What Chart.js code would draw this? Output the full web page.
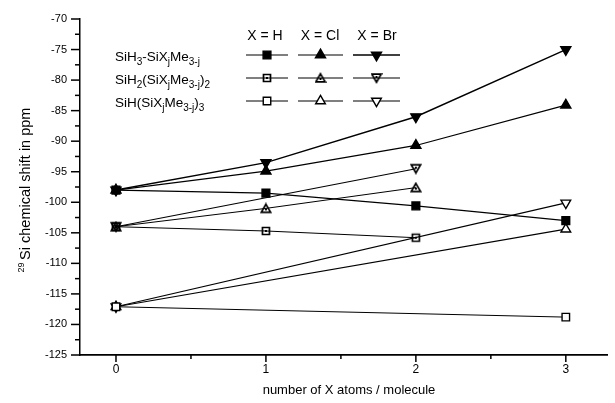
<!DOCTYPE html>
<html>
<head>
<meta charset="utf-8">
<script src="https://cdn.jsdelivr.net/npm/chart.js@4"></script>
<style>
  html, body { margin: 0; padding: 0; background: #fff; }
  #wrap { width: 615px; height: 403px; }
</style>
</head>
<body>
<div id="wrap"><canvas id="shiftChart" width="615" height="403"></canvas></div>
<script>
// --- data ---
const xValues = [0, 1, 2, 3];
const siH3_H  = [-98.0, -98.5, -100.6, -103.0];
const siH3_Cl = [-98.0, -94.9, -90.7, -84.1];
const siH3_Br = [-98.0, -93.5, -86.0, -75.0];
const siH2_H  = [-104.0, -104.7, -105.8, null];
const siH2_Cl = [-104.0, -101.0, -97.6, null];
const siH2_Br = [-104.0, null, -94.5, null];
const siH_H   = [-117.1, null, null, -118.8];
const siH_Cl  = [-117.1, null, null, -104.4];
const siH_Br  = [-117.1, null, null, -100.1];

const xMajorTicks = [0, 1, 2, 3];
const xMinorTicks = [0.5, 1.5, 2.5];
const yMajorTicks = [-125, -120, -115, -110, -105, -100, -95, -90, -85, -80, -75, -70];
const legendHeaders = ['X = H', 'X = Cl', 'X = Br'];

const FONT = '"Liberation Sans", Arial, sans-serif';

// small markers with a dot in the middle (SiH2 row)
function dotMarker(shape) {
    const c = document.createElement('canvas');
    c.width = 12; c.height = 12;
    const g = c.getContext('2d');
    g.strokeStyle = '#000';
    g.fillStyle = '#000';
    g.lineWidth = 1.7;
    g.beginPath();
    if (shape === 'square') {
        g.rect(2.5, 2.5, 7, 7);
    } else if (shape === 'up') {
        g.moveTo(6, 1.8); g.lineTo(10.6, 9.8); g.lineTo(1.4, 9.8); g.closePath();
    } else {
        g.moveTo(1.4, 2.2); g.lineTo(10.6, 2.2); g.lineTo(6, 10.2); g.closePath();
    }
    g.stroke();
    const dy = shape === 'up' ? 6 : (shape === 'down' ? 4 : 5);
    g.fillRect(5, dy, 2, 2);
    return c;
}

const styles = {
    siH3_H:  { pointStyle: 'rect', radius: 5.5, rotation: 0, fill: true, width: 1.2 },
    siH3_Cl: { pointStyle: 'triangle', radius: 5.8, rotation: 0, fill: true, width: 1.2 },
    siH3_Br: { pointStyle: 'triangle', radius: 5.8, rotation: 180, fill: true, width: 1.4 },
    siH2_H:  { pointStyle: dotMarker('square'), radius: 5, rotation: 0, fill: false, width: 1 },
    siH2_Cl: { pointStyle: dotMarker('up'), radius: 5, rotation: 0, fill: false, width: 1 },
    siH2_Br: { pointStyle: dotMarker('down'), radius: 5, rotation: 0, fill: false, width: 1.1 },
    siH_H:   { pointStyle: 'rect', radius: 5.3, rotation: 0, fill: false, width: 1 },
    siH_Cl:  { pointStyle: 'triangle', radius: 5.6, rotation: 0, fill: false, width: 1.1 },
    siH_Br:  { pointStyle: 'triangle', radius: 5.6, rotation: 180, fill: false, width: 1.1 }
};

const series = [
    ['siH3_H', siH3_H], ['siH3_Cl', siH3_Cl], ['siH3_Br', siH3_Br],
    ['siH2_H', siH2_H], ['siH2_Cl', siH2_Cl], ['siH2_Br', siH2_Br],
    ['siH_H', siH_H], ['siH_Cl', siH_Cl], ['siH_Br', siH_Br]
];

function toPoints(values) {
    const pts = [];
    values.forEach((v, i) => {
        if (v !== null) pts.push({ x: xValues[i], y: v });
    });
    return pts;
}

const datasets = series.map(([name, values]) => {
    const s = styles[name];
    return {
        label: name,
        data: toPoints(values),
        borderColor: '#000',
        borderWidth: s.width,
        backgroundColor: s.fill ? '#000' : '#fff',
        pointBackgroundColor: s.fill ? '#000' : '#fff',
        pointBorderColor: '#000',
        pointBorderWidth: 1.4,
        pointStyle: s.pointStyle,
        pointRadius: s.radius,
        pointRotation: s.rotation,
        pointHoverRadius: s.radius,
        tension: 0,
        fill: false
    };
});

// ticks, titles and the little table legend
const decorPlugin = {
    id: 'decor',
    afterDraw(chart) {
        const ctx = chart.ctx;
        const xs = chart.scales.x;
        const ys = chart.scales.y;
        const area = chart.chartArea;
        ctx.save();
        ctx.strokeStyle = '#000';
        ctx.lineWidth = 1.5;
        // y ticks
        for (let v = -125; v <= -70; v += 2.5) {
            const py = ys.getPixelForValue(v);
            const len = yMajorTicks.includes(v) ? 9 : 5;
            ctx.beginPath();
            ctx.moveTo(area.left - len, py);
            ctx.lineTo(area.left, py);
            ctx.stroke();
        }
        // x ticks
        xMajorTicks.concat(xMinorTicks).forEach(v => {
            const px = xs.getPixelForValue(v);
            const len = xMajorTicks.includes(v) ? 7 : 4;
            ctx.beginPath();
            ctx.moveTo(px, area.bottom);
            ctx.lineTo(px, area.bottom + len);
            ctx.stroke();
        });

        ctx.fillStyle = '#000';
        // x title
        ctx.font = '13px ' + FONT;
        ctx.textAlign = 'center';
        ctx.textBaseline = 'middle';
        ctx.fillText('number of X atoms / molecule', 349, 390);

        // y title
        ctx.save();
        ctx.translate(26, 190);
        ctx.rotate(-Math.PI / 2);
        ctx.textAlign = 'left';
        const main = 'Si chemical shift in ppm';
        ctx.font = '9px ' + FONT;
        const supW = ctx.measureText('29 ').width;
        ctx.font = '14.5px ' + FONT;
        const mainW = ctx.measureText(main).width;
        const startX = -(supW + mainW) / 2;
        ctx.font = '9px ' + FONT;
        ctx.fillText('29', startX, -4);
        ctx.font = '14.5px ' + FONT;
        ctx.fillText(main, startX + supW, 0);
        ctx.restore();

        // legend headers
        const cols = [265, 320, 377];
        const colSpan = [[246, 288], [298, 343], [353, 400]];
        ctx.font = '14px ' + FONT;
        ctx.textAlign = 'center';
        legendHeaders.forEach((h, i) => ctx.fillText(h, cols[i], 36));

        // row labels with subscripts
        const rows = [
            [['SiH', 0], ['3', 1], ['-SiX', 0], ['j', 1], ['Me', 0], ['3-j', 1]],
            [['SiH', 0], ['2', 1], ['(SiX', 0], ['j', 1], ['Me', 0], ['3-j', 1], [')', 0], ['2', 1]],
            [['SiH(SiX', 0], ['j', 1], ['Me', 0], ['3-j', 1], [')', 0], ['3', 1]]
        ];
        const rowY = [57, 80, 103];
        ctx.textAlign = 'left';
        rows.forEach((parts, r) => {
            let px = 115;
            parts.forEach(([t, sub]) => {
                ctx.font = (sub ? '10px ' : '13.5px ') + FONT;
                ctx.fillText(t, px, rowY[r] + (sub ? 5 : 0));
                px += ctx.measureText(t).width;
            });
        });

        // legend samples
        const names = [
            ['siH3_H', 'siH3_Cl', 'siH3_Br'],
            ['siH2_H', 'siH2_Cl', 'siH2_Br'],
            ['siH_H', 'siH_Cl', 'siH_Br']
        ];
        names.forEach((row, r) => {
            row.forEach((name, c) => {
                const s = styles[name];
                const y = rowY[r] - 2;
                ctx.lineWidth = s.width;
                ctx.beginPath();
                ctx.moveTo(colSpan[c][0], y);
                ctx.lineTo(colSpan[c][1], y);
                ctx.stroke();
                ctx.fillStyle = s.fill ? '#000' : '#fff';
                ctx.lineWidth = 1.4;
                Chart.helpers.drawPoint(ctx, {
                    pointStyle: s.pointStyle,
                    radius: s.radius,
                    rotation: s.rotation,
                    borderWidth: 1.4
                }, (colSpan[c][0] + colSpan[c][1]) / 2, y);
                ctx.fillStyle = '#000';
            });
        });
        ctx.restore();
    }
};

new Chart(document.getElementById('shiftChart'), {
    type: 'line',
    data: { datasets: datasets },
    options: {
        responsive: false,
        animation: false,
        layout: { padding: { top: 19, right: 0, left: 0, bottom: 0 } },
        plugins: {
            legend: { display: false },
            tooltip: { enabled: false }
        },
        scales: {
            x: {
                type: 'linear',
                min: -0.24,
                max: 3.28,
                afterBuildTicks: scale => {
                    scale.ticks = xMajorTicks.map(v => ({ value: v }));
                },
                afterFit: scale => { scale.height = 48; },
                grid: { display: false, drawTicks: false },
                border: { display: true, color: '#000', width: 1.8 },
                ticks: {
                    padding: 7,
                    color: '#000',
                    font: { family: FONT, size: 12 },
                    callback: v => String(v)
                }
            },
            y: {
                min: -125,
                max: -70,
                afterBuildTicks: scale => {
                    scale.ticks = yMajorTicks.map(v => ({ value: v }));
                },
                afterFit: scale => { scale.width = 80; },
                grid: { display: false },
                border: { display: true, color: '#000', width: 1.5 },
                ticks: {
                    padding: 5,
                    color: '#000',
                    font: { family: FONT, size: 11 },
                    callback: v => String(v)
                }
            }
        }
    },
    plugins: [decorPlugin]
});
</script>
</body>
</html>
